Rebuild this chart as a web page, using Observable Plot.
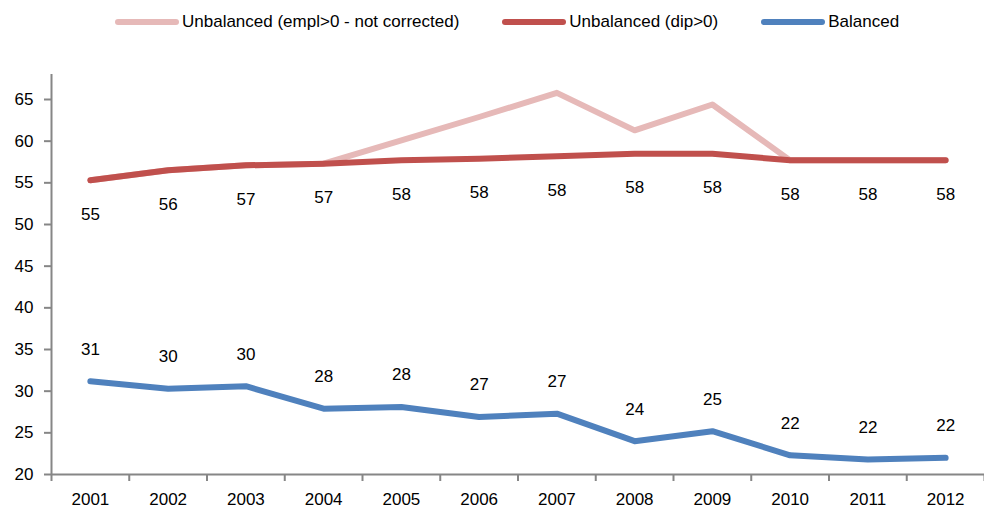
<!DOCTYPE html>
<html>
<head>
<meta charset="utf-8">
<script src="https://cdn.jsdelivr.net/npm/d3@7"></script>
<script src="https://cdn.jsdelivr.net/npm/@observablehq/plot@0.6"></script>
<style>
  html, body { margin: 0; padding: 0; background: #fff; }
  body { width: 984px; height: 509px; position: relative; overflow: hidden; font-family: "Liberation Sans", Arial, sans-serif; }
  #legend { position: absolute; left: 115px; top: 10px; display: flex; gap: 43px; font-size: 17px; color: #000; line-height: 24px; }
  .item { display: flex; align-items: center; gap: 3px; }
  .sw { width: 64px; height: 6px; border-radius: 3px; }
  #chart { position: absolute; left: 0; top: 0; }
</style>
</head>
<body>
<div id="legend"></div>
<div id="chart"></div>
<script>
const years = [2001, 2002, 2003, 2004, 2005, 2006, 2007, 2008, 2009, 2010, 2011, 2012];
const seriesNames = ["Unbalanced (empl>0 - not corrected)", "Unbalanced (dip>0)", "Balanced"];
const unbalEmpl = [55.3, 56.5, 57.1, 57.3, 60.1, 62.9, 65.8, 61.3, 64.4, 57.7, 57.7, 57.7];
const unbalDip = [55.3, 56.5, 57.1, 57.3, 57.7, 57.9, 58.2, 58.5, 58.5, 57.7, 57.7, 57.7];
const balanced = [31.2, 30.3, 30.6, 27.9, 28.1, 26.9, 27.3, 24.0, 25.2, 22.3, 21.8, 22.0];
const dipLabels = ["55", "56", "57", "57", "58", "58", "58", "58", "58", "58", "58", "58"];
const balancedLabels = ["31", "30", "30", "28", "28", "27", "27", "24", "25", "22", "22", "22"];
const yTicks = [20, 25, 30, 35, 40, 45, 50, 55, 60, 65];

const colors = ["#E6B9B8", "#C0504D", "#4F81BD"];

const rows = (vals, labels) => years.map((y, i) => ({year: y, value: vals[i], label: labels ? labels[i] : ""}));
const empl = rows(unbalEmpl);
const dip = rows(unbalDip, dipLabels);
const bal = rows(balanced, balancedLabels);
const boundaries = years.map(y => y - 0.5);

const font = "Liberation Sans, Arial, sans-serif";
const plot = Plot.plot({
  width: 984,
  height: 509,
  marginTop: 74,
  marginBottom: 35,
  marginLeft: 51,
  marginRight: 0,
  style: {fontFamily: font, fontSize: "17px", color: "#000", background: "transparent"},
  x: {domain: [2000.5, 2012.5]},
  y: {domain: [20, 68]},
  marks: [
    Plot.axisY({ticks: yTicks, tickSize: 7, tickPadding: 11, stroke: "#868686", strokeWidth: 2, strokeOpacity: 1, fill: "#000", label: null, fontSize: 17}),
    Plot.axisX({ticks: years, tickSize: 0, tickPadding: 18, tickFormat: d => String(d), label: null, fill: "#000", fontSize: 17}),
    Plot.axisX({ticks: boundaries.concat([2012.5]), tickSize: 7, tickFormat: () => "", label: null, stroke: "#868686", strokeWidth: 2, strokeOpacity: 1}),
    Plot.ruleY([20], {stroke: "#868686", strokeWidth: 2}),
    Plot.ruleX([2000.5], {stroke: "#868686", strokeWidth: 2}),
    Plot.line(empl, {x: "year", y: "value", stroke: colors[0], strokeWidth: 6, strokeLinecap: "round", strokeLinejoin: "round"}),
    Plot.line(dip, {x: "year", y: "value", stroke: colors[1], strokeWidth: 6, strokeLinecap: "round", strokeLinejoin: "round"}),
    Plot.line(bal, {x: "year", y: "value", stroke: colors[2], strokeWidth: 6, strokeLinecap: "round", strokeLinejoin: "round"}),
    Plot.text(dip, {x: "year", y: "value", text: "label", dy: 34, fill: "#000", fontSize: 17}),
    Plot.text(bal, {x: "year", y: "value", text: "label", dy: -32, fill: "#000", fontSize: 17})
  ]
});
document.getElementById("chart").appendChild(plot);

const legend = document.getElementById("legend");
seriesNames.forEach((name, i) => {
  const item = document.createElement("div");
  item.className = "item";
  const sw = document.createElement("div");
  sw.className = "sw";
  sw.style.background = colors[i];
  const t = document.createElement("span");
  t.textContent = name;
  item.appendChild(sw);
  item.appendChild(t);
  legend.appendChild(item);
});
</script>
</body>
</html>
